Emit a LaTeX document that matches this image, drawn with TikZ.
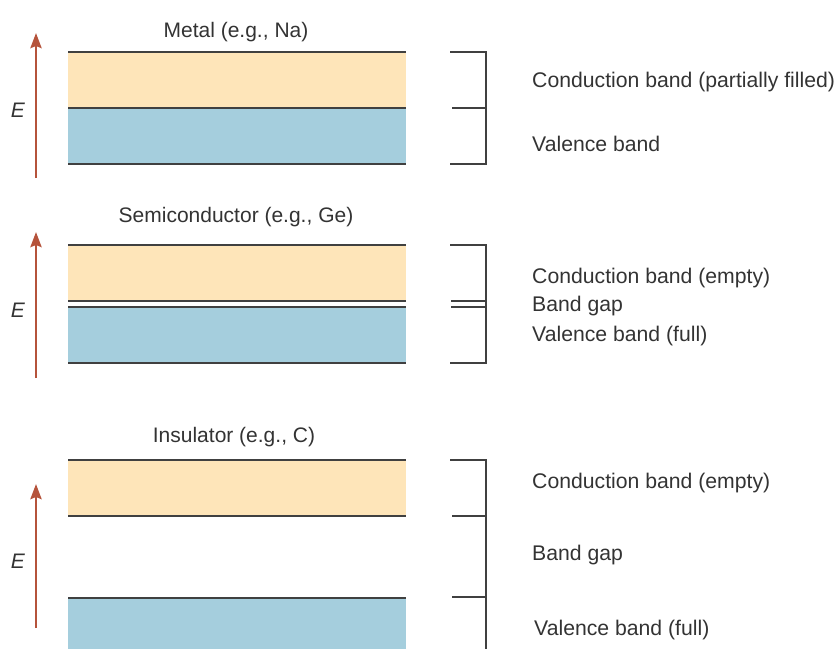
\documentclass[tikz,border=0pt]{standalone}
\usepackage{fontspec}
\setmainfont{Liberation Sans}
\usetikzlibrary{arrows.meta}
\definecolor{condc}{HTML}{FEE5B9}
\definecolor{valc}{HTML}{A5CEDD}
\definecolor{arrc}{HTML}{B5533B}
\definecolor{linec}{HTML}{404040}
\definecolor{txtc}{HTML}{333333}
\tikzset{
  edge/.style={draw=linec, line width=1.4pt},
  brk/.style={draw=linec, line width=1.4pt},
  earrow/.style={draw=arrc, line width=2.8pt, -{Stealth[length=15pt,width=11pt,inset=2pt]}},
  lbl/.style={anchor=base west, inner sep=0pt, text=txtc, font=\fontsize{21.2}{24}\selectfont},
  ttl/.style={anchor=base, inner sep=0pt, text=txtc, font=\fontsize{21}{24}\selectfont},
  elbl/.style={anchor=base, inner sep=0pt, text=txtc, font=\fontsize{21}{24}\selectfont\itshape},
}
\begin{document}
\begin{tikzpicture}[x=1pt,y=-1pt]
\useasboundingbox (0,0) rectangle (836,649);
% ---------- Metal ----------
\node[ttl] (t1) at (236,37) {Metal (e.g., Na)};
\fill[condc] (68,52) rectangle (406,108);
\fill[valc] (68,108) rectangle (406,164);
\draw[edge] (68,52) -- (406,52);
\draw[edge] (68,108) -- (406,108);
\draw[edge] (68,164) -- (406,164);
\coordinate (a1s) at (36,178);
\coordinate (a1e) at (36,33);
\draw[earrow] (a1s) -- (a1e);
\node[elbl] (e1) at (18,117) {E};
\draw[brk] (450,52) -- (486,52) -- (486,164) -- (450,164);
\draw[brk] (452,108) -- (486,108);
\node[lbl] (l1a) at (532,87) {Conduction band (partially filled)};
\node[lbl] (l1b) at (532,151) {Valence band};
% ---------- Semiconductor ----------
\node[ttl] (t2) at (236,222) {Semiconductor (e.g., Ge)};
\fill[condc] (68,245) rectangle (406,301);
\fill[valc] (68,307) rectangle (406,363);
\draw[edge] (68,245) -- (406,245);
\draw[edge] (68,301) -- (406,301);
\draw[edge] (68,307) -- (406,307);
\draw[edge] (68,363) -- (406,363);
\coordinate (a2s) at (36,378);
\coordinate (a2e) at (36,232);
\draw[earrow] (a2s) -- (a2e);
\node[elbl] (e2) at (18,317) {E};
\draw[brk] (450,245) -- (486,245) -- (486,363) -- (450,363);
\draw[brk] (451,301) -- (486,301);
\draw[brk] (451,307) -- (486,307);
\node[lbl] (l2a) at (532,283) {Conduction band (empty)};
\node[lbl] (l2b) at (532,311) {Band gap};
\node[lbl] (l2c) at (532,341) {Valence band (full)};
% ---------- Insulator ----------
\node[ttl] (t3) at (234,442) {Insulator (e.g., C)};
\fill[condc] (68,460) rectangle (406,516);
\fill[valc] (68,598) rectangle (406,649);
\draw[edge] (68,460) -- (406,460);
\draw[edge] (68,516) -- (406,516);
\draw[edge] (68,598) -- (406,598);
\coordinate (a3s) at (36,628);
\coordinate (a3e) at (36,484);
\draw[earrow] (a3s) -- (a3e);
\node[elbl] (e3) at (18,568) {E};
\draw[brk] (450,460) -- (486,460) -- (486,649);
\draw[brk] (452,516) -- (486,516);
\draw[brk] (452,597) -- (486,597);
\node[lbl] (l3a) at (532,488) {Conduction band (empty)};
\node[lbl] (l3b) at (532,560) {Band gap};
\node[lbl] (l3c) at (534,635) {Valence band (full)};
\end{tikzpicture}
\end{document}
